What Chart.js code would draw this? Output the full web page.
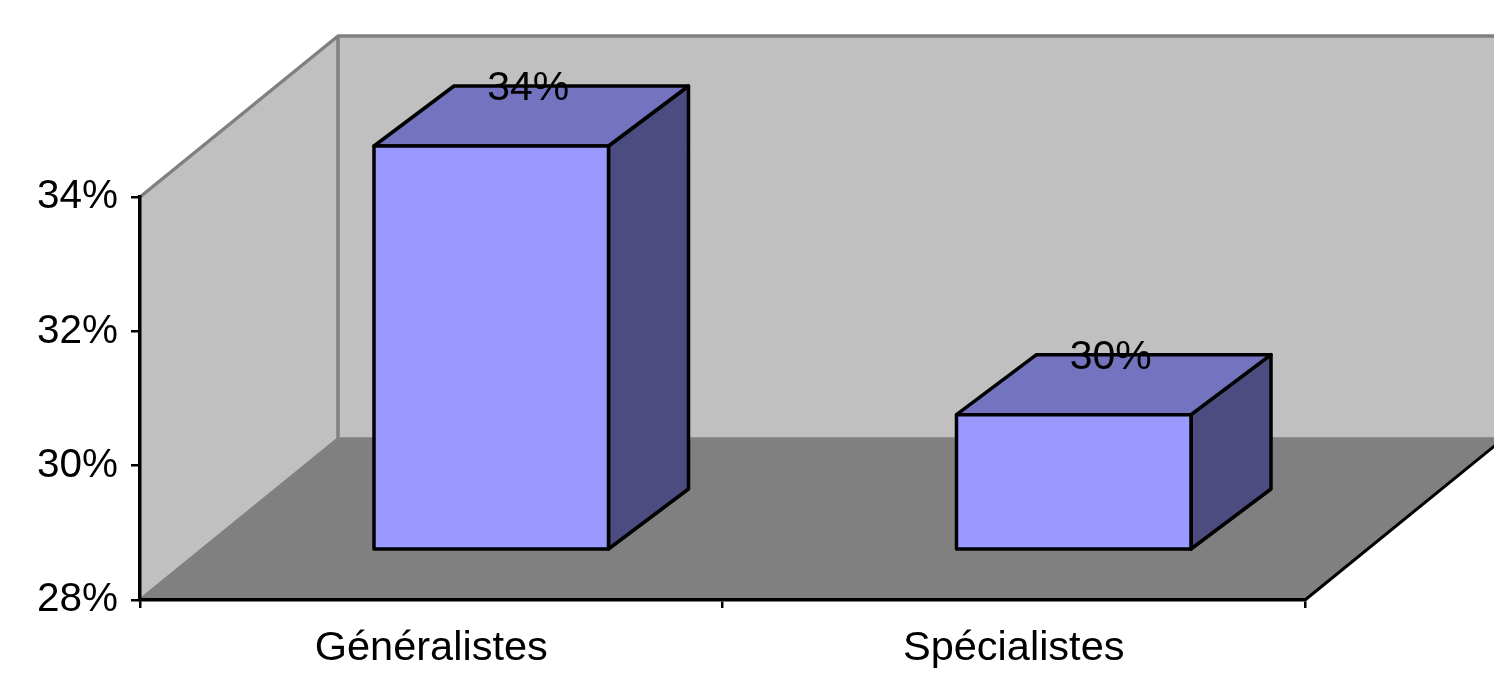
<!DOCTYPE html>
<html><head><meta charset="utf-8">
<script src="https://cdn.jsdelivr.net/npm/chart.js@4/dist/chart.umd.min.js"></script>
<style>html,body{margin:0;padding:0;background:#fff;overflow:hidden}canvas{display:block}</style>
</head><body><canvas id="c" width="1494" height="676"></canvas>
<script>
const categories = ['Généralistes', 'Spécialistes'];
const values = [34, 30];
const yTicks = [28, 30, 32, 34];

const FONT = '"Liberation Sans", Arial, sans-serif';
const DEPTH_X = 198, DEPTH_Y = 161;      // wall / floor depth
const SHIFT_X = 60, SHIFT_Y = 51;        // bar front-plane offset
const BAR_DX = 80, BAR_DY = 60;          // bar depth

const threeD = {
  id: 'threeD',
  beforeDraw(chart) {
    const ctx = chart.ctx;
    const { left, right, top, bottom } = chart.chartArea;
    ctx.save();
    ctx.fillStyle = '#c0c0c0';
    ctx.fillRect(left + DEPTH_X, top - DEPTH_Y, chart.width, bottom - top);
    ctx.beginPath();
    ctx.moveTo(left, top);
    ctx.lineTo(left + DEPTH_X, top - DEPTH_Y);
    ctx.lineTo(left + DEPTH_X, bottom - DEPTH_Y);
    ctx.lineTo(left, bottom);
    ctx.closePath();
    ctx.fill();
    ctx.fillStyle = '#808080';
    ctx.beginPath();
    ctx.moveTo(left, bottom);
    ctx.lineTo(left + DEPTH_X, bottom - DEPTH_Y);
    ctx.lineTo(right + DEPTH_X, bottom - DEPTH_Y);
    ctx.lineTo(right, bottom);
    ctx.closePath();
    ctx.fill();
    ctx.strokeStyle = '#808080';
    ctx.lineWidth = 3.5;
    ctx.lineJoin = 'round';
    ctx.beginPath();
    ctx.moveTo(left, top);
    ctx.lineTo(left + DEPTH_X, top - DEPTH_Y);
    ctx.lineTo(chart.width + 5, top - DEPTH_Y);
    ctx.moveTo(left + DEPTH_X, top - DEPTH_Y);
    ctx.lineTo(left + DEPTH_X, bottom - DEPTH_Y);
    ctx.lineTo(chart.width + 5, bottom - DEPTH_Y);
    ctx.moveTo(left, bottom);
    ctx.lineTo(left + DEPTH_X, bottom - DEPTH_Y);
    ctx.stroke();
    ctx.strokeStyle = '#000';
    ctx.lineWidth = 3;
    ctx.beginPath();
    ctx.moveTo(right, bottom);
    ctx.lineTo(right + DEPTH_X, bottom - DEPTH_Y);
    ctx.stroke();
    ctx.restore();
  },
  afterDatasetsDraw(chart) {
    const ctx = chart.ctx;
    const yScale = chart.scales.y;
    const meta = chart.getDatasetMeta(0);
    const basePx = yScale.getPixelForValue(yScale.min);
    ctx.save();
    ctx.lineWidth = 3.5;
    ctx.strokeStyle = '#000';
    ctx.lineJoin = 'round';
    meta.data.forEach((bar, i) => {
      const p = bar.getProps(['x', 'y', 'width'], true);
      const fl = p.x - p.width / 2 + SHIFT_X, fr = p.x + p.width / 2 + SHIFT_X;
      const ft = p.y - SHIFT_Y, fb = basePx - SHIFT_Y;
      ctx.fillStyle = '#4c4c80';
      ctx.beginPath();
      ctx.moveTo(fr, ft); ctx.lineTo(fr + BAR_DX, ft - BAR_DY);
      ctx.lineTo(fr + BAR_DX, fb - BAR_DY); ctx.lineTo(fr, fb); ctx.closePath();
      ctx.fill(); ctx.stroke();
      ctx.fillStyle = '#7373bf';
      ctx.beginPath();
      ctx.moveTo(fl, ft); ctx.lineTo(fl + BAR_DX, ft - BAR_DY);
      ctx.lineTo(fr + BAR_DX, ft - BAR_DY); ctx.lineTo(fr, ft); ctx.closePath();
      ctx.fill(); ctx.stroke();
      ctx.fillStyle = '#9999ff';
      ctx.beginPath();
      ctx.rect(fl, ft, fr - fl, fb - ft);
      ctx.fill(); ctx.stroke();
      ctx.fillStyle = '#000';
      ctx.font = '41px ' + FONT;
      ctx.textAlign = 'center';
      ctx.textBaseline = 'middle';
      ctx.fillText(Math.round(values[i]) + '%', (fl + fr) / 2 + 37, ft - BAR_DY + 3);
    });
    ctx.restore();
  }
};

new Chart(document.getElementById('c'), {
  type: 'bar',
  data: {
    labels: categories,
    datasets: [{
      data: values,
      backgroundColor: 'rgba(0,0,0,0)',
      borderWidth: 0,
      barPercentage: 0.4026,
      categoryPercentage: 1
    }]
  },
  options: {
    responsive: false,
    animation: false,
    events: [],
    layout: { padding: { top: 197, right: 189, left: 0, bottom: 0 } },
    plugins: { legend: { display: false }, tooltip: { enabled: false } },
    scales: {
      x: {
        offset: true,
        afterFit(s) { s.height = 76; },
        grid: { offset: true, drawOnChartArea: false, drawTicks: true, tickLength: 8, color: '#000', lineWidth: 2.5 },
        border: { display: true, color: '#000', width: 3.5 },
        ticks: { color: '#000', font: { family: FONT, size: 41.5 }, padding: 16, maxRotation: 0 }
      },
      y: {
        min: 28, max: 34,
        afterFit(s) { s.width = 140; },
        afterBuildTicks(s) { s.ticks = yTicks.map(v => ({ value: v })); },
        grid: { drawOnChartArea: false, drawTicks: true, tickLength: 9, color: '#000', lineWidth: 2.5 },
        border: { display: true, color: '#000', width: 3.5 },
        ticks: { color: '#000', font: { family: FONT, size: 40.5 }, padding: 13, callback: v => v + '%' }
      }
    }
  },
  plugins: [threeD]
});
</script>
</body></html>
